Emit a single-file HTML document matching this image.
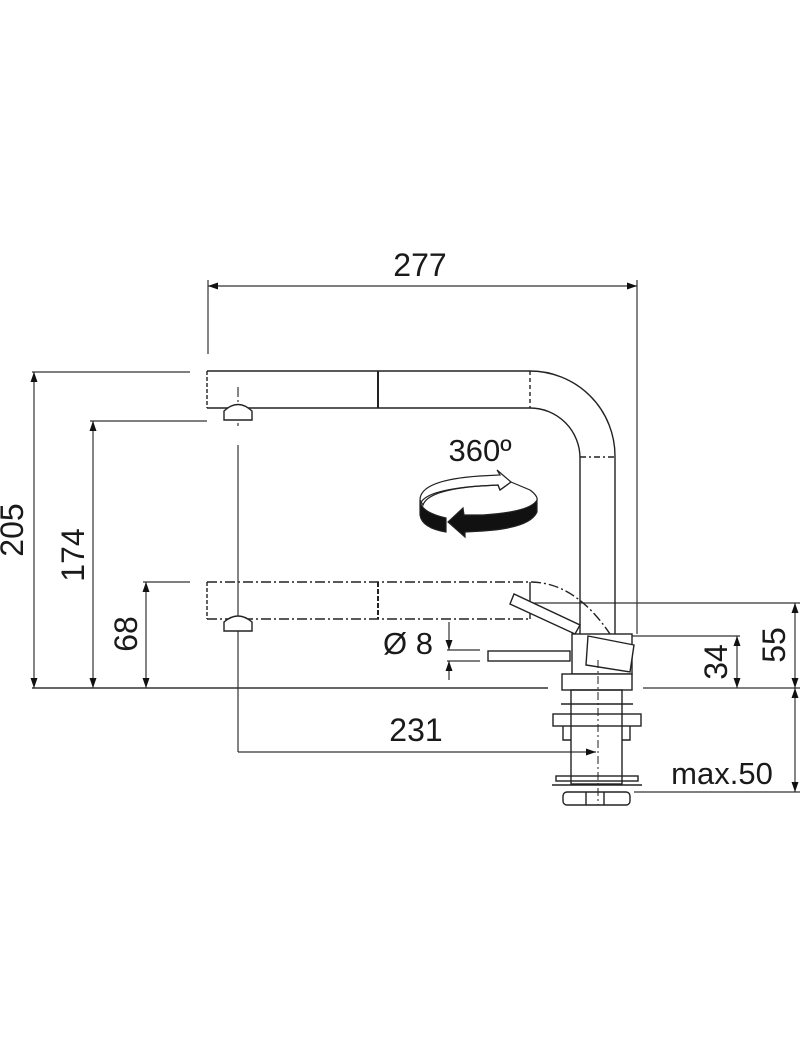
<!DOCTYPE html>
<html><head><meta charset="utf-8"><style>html,body{margin:0;padding:0;background:#fff}svg{display:block}text{font-family:"Liberation Sans",Arial,sans-serif;fill:#1a1a1a}</style></head>
<body>
<svg width="800" height="1058" viewBox="0 0 800 1058" xmlns="http://www.w3.org/2000/svg">
<defs>
<marker id="a" viewBox="0 0 10 10" refX="10" refY="5" markerWidth="10" markerHeight="10" markerUnits="userSpaceOnUse" orient="auto-start-reverse"><path d="M0,1.5 L10,5 L0,8.5 z" fill="#111"/></marker>
</defs>
<g stroke="#333" stroke-width="1.2" fill="none">
<line x1="208" y1="280" x2="208" y2="354"/>
<line x1="637" y1="280" x2="637" y2="634"/>
<line x1="208" y1="286" x2="637" y2="286" marker-start="url(#a)" marker-end="url(#a)"/>
<line x1="32" y1="372" x2="190" y2="372"/>
<line x1="90" y1="421" x2="207" y2="421"/>
<line x1="143" y1="582" x2="190" y2="582"/>
<line x1="34" y1="372" x2="34" y2="688" marker-start="url(#a)" marker-end="url(#a)"/>
<line x1="93" y1="421" x2="93" y2="688" marker-start="url(#a)" marker-end="url(#a)"/>
<line x1="146" y1="582" x2="146" y2="688" marker-start="url(#a)" marker-end="url(#a)"/>
<line x1="32" y1="688" x2="548" y2="688" stroke-width="1.6"/>
<line x1="643" y1="688" x2="800" y2="688"/>
<line x1="238" y1="387" x2="238" y2="426" stroke-dasharray="10,3,2,3"/>
<line x1="238" y1="445" x2="238" y2="752"/>
<line x1="238" y1="752" x2="596" y2="752" marker-end="url(#a)"/>
<line x1="530" y1="603" x2="800" y2="603"/>
<line x1="630" y1="636" x2="740" y2="636"/>
<line x1="634" y1="792" x2="800" y2="792"/>
<line x1="795" y1="603" x2="795" y2="688" marker-start="url(#a)" marker-end="url(#a)"/>
<line x1="737" y1="636" x2="737" y2="688" marker-start="url(#a)" marker-end="url(#a)"/>
<line x1="795" y1="688" x2="795" y2="792" marker-start="url(#a)" marker-end="url(#a)"/>
<line x1="447" y1="650" x2="480" y2="650"/>
<line x1="447" y1="661" x2="480" y2="661"/>
<line x1="449" y1="622" x2="449" y2="650" marker-end="url(#a)"/>
<line x1="449" y1="680" x2="449" y2="661" marker-end="url(#a)"/>
</g>
<g stroke="#222" stroke-width="1.4" fill="none">
<path d="M207,371 L530,371 A85,85 0 0 1 615,456 L615,634"/>
<path d="M207,408 L530,408 A50,50 0 0 1 580,458 L580,634"/>
<line x1="207" y1="371" x2="207" y2="408" stroke-dasharray="4,2"/>
<line x1="378" y1="371" x2="378" y2="408" stroke-width="2"/>
<line x1="530" y1="371" x2="530" y2="408" stroke-dasharray="4,3"/>
<line x1="580" y1="457" x2="615" y2="457" stroke-dasharray="6,3,2,3"/>
<path d="M224,420 L224,411 Q238,398 252,411 L252,420 Z" fill="#fff"/>
<path d="M207,582 L530,582 Q575,582 610,634" stroke-dasharray="10,3,2,3"/>
<path d="M207,619 L530,619" stroke-dasharray="10,3,2,3"/>
<line x1="207" y1="582" x2="207" y2="619" stroke-dasharray="4,2"/>
<line x1="378" y1="582" x2="378" y2="619" stroke-width="2" stroke-dasharray="5,2"/>
<line x1="530" y1="582" x2="530" y2="619"/>
<path d="M224,631 L224,622 Q238,610 252,622 L252,631 Z" fill="#fff"/>
<rect x="488" y="651" width="82" height="10"/>
<path d="M510,604 L514,594 L580,625 L575,634 Z" fill="#fff"/>
<rect x="572" y="634" width="60" height="40" fill="#fff"/>
<path d="M588,636 L634,645 L630,672 L586,665 Z" fill="#fff"/>
<rect x="562" y="674" width="70" height="16" fill="#fff"/>
<rect x="571" y="690" width="51" height="94"/>
<line x1="598" y1="660" x2="598" y2="805" stroke-dasharray="8,3,2,3" stroke-width="1"/>
<line x1="561" y1="704" x2="633" y2="704"/>
<rect x="553" y="714" width="88" height="12"/>
<path d="M563,726 L563,740 L571,740 M622,740 L630,740 L630,726"/>
<rect x="556" y="776" width="82" height="5"/>
<line x1="552" y1="785" x2="642" y2="785"/>
<rect x="563" y="792" width="67" height="13" rx="4"/>
<line x1="586" y1="792" x2="586" y2="805"/><line x1="604" y1="792" x2="604" y2="805"/>
</g>
<g stroke="#222" stroke-width="1.2">
<path d="M420,500 Q420,480 480,476 L500,475 L497,470 L511,482 L500,490 L498,485 L480,486 Q428,490 423,505 Z" fill="#fff"/>
<path d="M420,505 Q423,490 480,486 L498,485 L500,490 L511,482 L530,490 Q538,496 537,500" fill="none"/>
<path d="M420,500 L420,515 Q422,528 446,532 L446,518 Q420,512 420,500 Z" fill="#111"/>
<path d="M537,500 L537,512 Q530,528 483,531 L465,532 L465,537 L448,522 L463,508 L464,515 L483,515 Q530,512 537,500 Z" fill="#111"/>
</g>
<text x="420" y="276" font-size="32" text-anchor="middle">277</text>
<text x="480" y="461" font-size="31" text-anchor="middle">360º</text>
<text x="408" y="654" font-size="31" text-anchor="middle">Ø 8</text>
<text x="416" y="741" font-size="32" text-anchor="middle">231</text>
<text x="722" y="784" font-size="31" text-anchor="middle">max.50</text>
<text transform="translate(23,530) rotate(-90)" font-size="32" text-anchor="middle">205</text>
<text transform="translate(84,555) rotate(-90)" font-size="32" text-anchor="middle">174</text>
<text transform="translate(137,634) rotate(-90)" font-size="32" text-anchor="middle">68</text>
<text transform="translate(727,662) rotate(-90)" font-size="32" text-anchor="middle">34</text>
<text transform="translate(785,645) rotate(-90)" font-size="32" text-anchor="middle">55</text>
</svg>
</body></html>
